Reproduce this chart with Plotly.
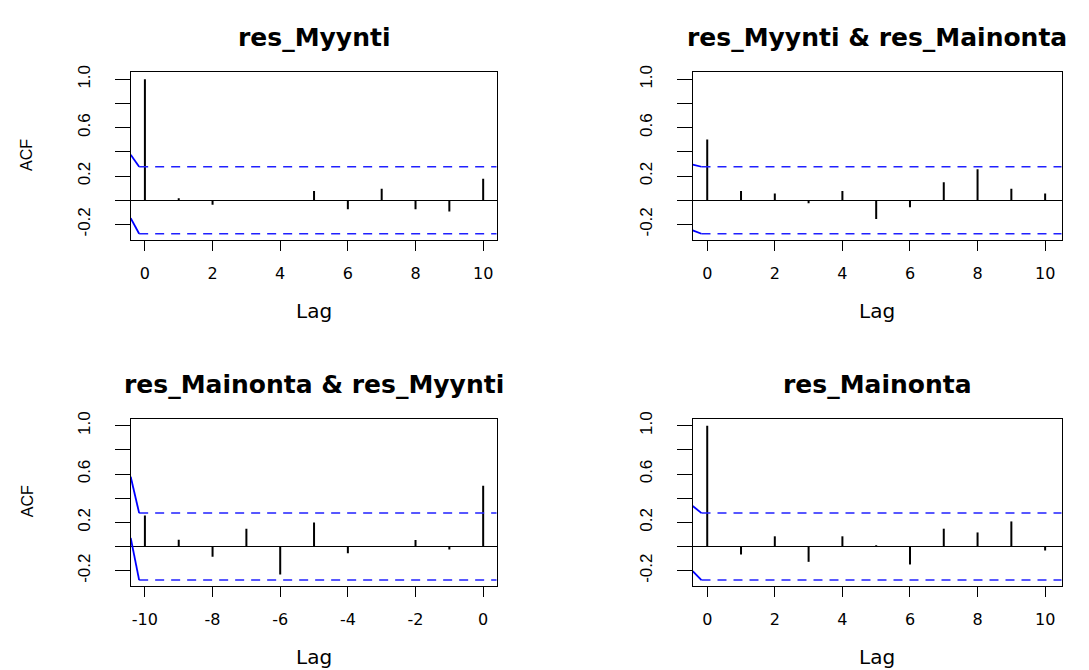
import plotly.graph_objects as go

W, H = 1089, 670

# ---- data ----
titles = ["res_Myynti", "res_Myynti & res_Mainonta",
          "res_Mainonta & res_Myynti", "res_Mainonta"]
lags_pos = [0, 1, 2, 3, 4, 5, 6, 7, 8, 9, 10]
lags_neg = [-10, -9, -8, -7, -6, -5, -4, -3, -2, -1, 0]
acf_myynti = [1.0, 0.016, -0.038, 0.0, 0.0, 0.077, -0.074, 0.096, -0.074, -0.093, 0.178]
ccf_myy_mai = [0.503, 0.077, 0.055, -0.025, 0.077, -0.156, -0.057, 0.148, 0.257, 0.096, 0.055]
ccf_mai_myy = [0.257, 0.057, -0.085, 0.148, -0.23, 0.2, -0.055, 0.0, 0.055, -0.025, 0.503]
acf_mainonta = [1.0, -0.066, 0.085, -0.126, 0.085, 0.011, -0.148, 0.148, 0.117, 0.208, -0.033]
ci_bound = 0.277
ci_upper_start = [0.377, 0.295, 0.577, 0.336]
ci_lower_start = [-0.148, -0.249, 0.071, -0.202]
x_ticks_pos = [0, 2, 4, 6, 8, 10]
x_ticks_neg = [-10, -8, -6, -4, -2, 0]
y_ticks = [-0.2, 0.0, 0.2, 0.4, 0.6, 0.8, 1.0]
y_tick_labels = ["-0.2", "", "0.2", "", "0.6", "", "1.0"]

panels = [
    dict(lags=lags_pos, vals=acf_myynti, xt=x_ticks_pos, xr=[-0.42, 10.40],
         box=(130.7, 496.7, 66, 235)),
    dict(lags=lags_pos, vals=ccf_myy_mai, xt=x_ticks_pos, xr=[-0.43, 10.49],
         box=(692.7, 1061.7, 66, 235)),
    dict(lags=lags_neg, vals=ccf_mai_myy, xt=x_ticks_neg, xr=[-10.42, 0.40],
         box=(130.7, 496.7, 416, 585)),
    dict(lags=lags_pos, vals=acf_mainonta, xt=x_ticks_pos, xr=[-0.43, 10.49],
         box=(692.7, 1061.7, 416, 585)),
]
y_range = [-0.325, 1.058]

fig = go.Figure()
layout = dict(width=W, height=H, margin=dict(l=0, r=0, t=0, b=0),
              paper_bgcolor="white", plot_bgcolor="white", showlegend=False)
annotations = []

for i, p in enumerate(panels):
    n = "" if i == 0 else str(i + 1)
    xa, ya = "x" + n, "y" + n
    x0, x1, y0, y1 = p["box"]
    xs, ys = [], []
    for l, v in zip(p["lags"], p["vals"]):
        xs += [l, l, None]
        ys += [0, v, None]
    fig.add_trace(go.Scatter(x=xs, y=ys, mode="lines", xaxis=xa, yaxis=ya,
                             line=dict(color="black", width=2), hoverinfo="skip"))
    first = min(p["lags"])
    xstart = first - 0.17
    for sgn, ystart in ((1, ci_upper_start[i]), (-1, ci_lower_start[i])):
        fig.add_trace(go.Scatter(x=[xstart, p["xr"][1]], y=[sgn * ci_bound] * 2,
                                 mode="lines", xaxis=xa, yaxis=ya,
                                 line=dict(color="#2020ff", width=1.5, dash="9px,7px"),
                                 hoverinfo="skip"))
        fig.add_trace(go.Scatter(x=[p["xr"][0], xstart], y=[ystart, sgn * ci_bound],
                                 mode="lines", xaxis=xa, yaxis=ya,
                                 line=dict(color="blue", width=1.8),
                                 hoverinfo="skip"))
    layout["xaxis" + n] = dict(
        domain=[x0 / W, x1 / W], anchor=ya, range=p["xr"],
        tickvals=p["xt"], ticktext=[str(t) for t in p["xt"]],
        ticks="outside", ticklen=10, tickwidth=1, tickcolor="black",
        showline=True, mirror=True, linecolor="black", linewidth=1,
        showgrid=False, zeroline=False, ticklabelstandoff=9,
        tickfont=dict(family="DejaVu Sans", size=16, color="black"))
    layout["yaxis" + n] = dict(
        domain=[1 - y1 / H, 1 - y0 / H], anchor=xa, range=y_range,
        tickvals=y_ticks, ticktext=y_tick_labels, tickangle=-90,
        ticks="outside", ticklen=15, tickwidth=1, tickcolor="black",
        showline=True, mirror=True, linecolor="black", linewidth=1,
        showgrid=False, zeroline=True, zerolinecolor="black", zerolinewidth=1,
        ticklabelstandoff=18,
        tickfont=dict(family="Liberation Sans", size=17, color="black"))
    cx = (x0 + x1) / 2
    annotations.append(dict(text="<b>%s</b>" % titles[i], x=cx / W, y=1 - (y0 - 35) / H,
                            xref="paper", yref="paper", showarrow=False,
                            xanchor="center", yanchor="middle",
                            font=dict(family="DejaVu Sans", size=25, color="black")))
    annotations.append(dict(text="Lag", x=cx / W, y=1 - (y1 + 72) / H,
                            xref="paper", yref="paper", showarrow=False,
                            xanchor="center", yanchor="middle",
                            font=dict(family="DejaVu Sans", size=20, color="black")))
    if i % 2 == 0:
        annotations.append(dict(text="ACF", x=27 / W, y=1 - ((y0 + y1) / 2 - 1) / H,
                                xref="paper", yref="paper", showarrow=False,
                                textangle=-90, xanchor="center", yanchor="middle",
                                font=dict(family="Liberation Sans", size=16, color="black")))

layout["annotations"] = annotations
fig.update_layout(**layout)
post = ("document.body.style.margin='0';"
        "var gd=document.getElementById('{plot_id}');"
        "gd.style.position='absolute';gd.style.left='0px';gd.style.top='0px';")
fig.write_html("out.html", post_script=post, config={"displayModeBar": False})
